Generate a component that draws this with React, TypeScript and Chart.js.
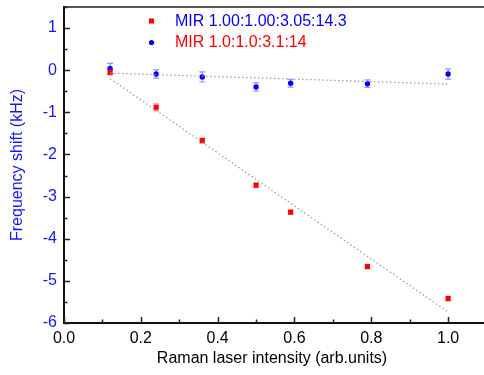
import React, { useEffect, useRef } from "react";
import { Chart, registerables } from "chart.js";

Chart.register(...registerables);

// ---- data ----
const xRed = [0.12, 0.24, 0.36, 0.5, 0.59, 0.79, 1.0];
const yRed = [-0.05, -0.88, -1.67, -2.73, -3.37, -4.66, -5.42];
const errRed = [0.06, 0.08, 0.06, 0.05, 0.05, 0.05, 0.05];

const xBlue = [0.12, 0.24, 0.36, 0.5, 0.59, 0.79, 1.0];
const yBlue = [0.04, -0.09, -0.16, -0.4, -0.31, -0.32, -0.09];
const errBlue = [0.12, 0.1, 0.12, 0.1, 0.09, 0.09, 0.12];

const fitRedX = [0.12, 1.0];
const fitRedY = [-0.2, -5.74];
const fitBlueX = [0.12, 1.0];
const fitBlueY = [-0.07, -0.33];

const labelRed = "MIR 1.00:1.00:3.05:14.3";
const labelBlue = "MIR 1.0:1.0:3.1:14";

const xMajorTicks = [0, 0.2, 0.4, 0.6, 0.8, 1.0];
const xMinorTicks = [0.1, 0.3, 0.5, 0.7, 0.9];
const yMajorTicks = [-6, -5, -4, -3, -2, -1, 0, 1];
const yMinorTicks = [-5.5, -4.5, -3.5, -2.5, -1.5, -0.5, 0.5, 1.5];

const xTitle = "Raman laser intensity (arb.units)";
const yTitle = "Frequency shift (kHz)";

const FONT = "'Liberation Sans', Arial, sans-serif";

const toPts = (xs: number[], ys: number[]) => xs.map((x, i) => ({ x, y: ys[i] }));

const errorBarPlugin = {
  id: "errorBars",
  beforeDatasetsDraw(chart: any) {
    const { ctx, scales } = chart;
    const xs = scales.x;
    const ys = scales.y;
    const draw = (xa: number[], ya: number[], ea: number[], color: string) => {
      ctx.save();
      ctx.strokeStyle = color;
      ctx.lineWidth = 1.2;
      xa.forEach((x, i) => {
        const px = xs.getPixelForValue(x);
        const top = ys.getPixelForValue(ya[i] + ea[i]);
        const bot = ys.getPixelForValue(ya[i] - ea[i]);
        ctx.beginPath();
        ctx.moveTo(px, top);
        ctx.lineTo(px, bot);
        ctx.moveTo(px - 3, top);
        ctx.lineTo(px + 3, top);
        ctx.moveTo(px - 3, bot);
        ctx.lineTo(px + 3, bot);
        ctx.stroke();
      });
      ctx.restore();
    };
    draw(xRed, yRed, errRed, "rgba(255,60,60,0.55)");
    draw(xBlue, yBlue, errBlue, "rgba(60,60,255,0.55)");
  },
};

const axesPlugin = {
  id: "axesFrame",
  afterDatasetsDraw(chart: any) {
    const { ctx, chartArea, scales } = chart;
    const { left, right, top, bottom } = chartArea;
    const xs = scales.x;
    const ys = scales.y;
    ctx.save();
    // top frame
    ctx.strokeStyle = "#555";
    ctx.lineWidth = 2;
    ctx.beginPath();
    ctx.moveTo(left, top);
    ctx.lineTo(484, top);
    ctx.stroke();
    // left & bottom axes
    ctx.strokeStyle = "#111";
    ctx.lineWidth = 2;
    ctx.beginPath();
    ctx.moveTo(left, top - 1);
    ctx.lineTo(left, bottom);
    ctx.lineTo(484, bottom);
    ctx.stroke();
    // ticks
    ctx.lineWidth = 1.5;
    ctx.strokeStyle = "#222";
    ctx.beginPath();
    yMajorTicks.forEach((v) => {
      const p = Math.round(ys.getPixelForValue(v)) + 0.5;
      ctx.moveTo(left, p);
      ctx.lineTo(left + 6, p);
    });
    yMinorTicks.forEach((v) => {
      const p = Math.round(ys.getPixelForValue(v)) + 0.5;
      ctx.moveTo(left, p);
      ctx.lineTo(left + 3.5, p);
    });
    xMajorTicks.forEach((v) => {
      const p = Math.round(xs.getPixelForValue(v)) + 0.5;
      ctx.moveTo(p, bottom);
      ctx.lineTo(p, bottom - 6);
    });
    xMinorTicks.forEach((v) => {
      const p = Math.round(xs.getPixelForValue(v)) + 0.5;
      ctx.moveTo(p, bottom);
      ctx.lineTo(p, bottom - 3.5);
    });
    ctx.stroke();
    ctx.restore();
  },
};

const legendPlugin = {
  id: "customLegend",
  afterDraw(chart: any) {
    const { ctx } = chart;
    ctx.save();
    ctx.font = `16px ${FONT}`;
    ctx.textBaseline = "middle";
    // item 1: red square
    ctx.fillStyle = "#ff0000";
    ctx.fillRect(149, 18.5, 5, 5);
    ctx.fillStyle = "#0000ff";
    ctx.fillText(labelRed, 175, 22);
    // item 2: blue circle
    ctx.fillStyle = "#0000ff";
    ctx.beginPath();
    ctx.arc(151.5, 42.5, 2.6, 0, Math.PI * 2);
    ctx.fill();
    ctx.fillStyle = "#ff0000";
    ctx.fillText(labelBlue, 175, 43);
    ctx.restore();
  },
};

export default function App() {
  const ref = useRef<HTMLCanvasElement | null>(null);

  useEffect(() => {
    if (!ref.current) return;
    const chart = new Chart(ref.current, {
      type: "scatter",
      data: {
        datasets: [
          {
            label: "fitRed",
            data: toPts(fitRedX, fitRedY),
            showLine: true,
            borderColor: "#9a9a9a",
            borderWidth: 1.2,
            borderDash: [1.5, 2.5],
            pointRadius: 0,
          },
          {
            label: "fitBlue",
            data: toPts(fitBlueX, fitBlueY),
            showLine: true,
            borderColor: "#9a9a9a",
            borderWidth: 1.2,
            borderDash: [1.5, 2.5],
            pointRadius: 0,
          },
          {
            label: labelRed,
            data: toPts(xRed, yRed),
            pointStyle: "rect",
            pointRadius: 3.6,
            backgroundColor: "#ff0000",
            borderColor: "#ff0000",
            borderWidth: 0,
          },
          {
            label: labelBlue,
            data: toPts(xBlue, yBlue),
            pointStyle: "circle",
            pointRadius: 2.7,
            backgroundColor: "#0000ff",
            borderColor: "#0000ff",
            borderWidth: 0,
          },
        ],
      },
      options: {
        animation: false,
        responsive: false,
        layout: { padding: { top: 7, right: 0, left: 0, bottom: 0 } },
        plugins: {
          legend: { display: false },
          tooltip: { enabled: false },
        },
        scales: {
          x: {
            type: "linear",
            min: 0,
            max: 1.083,
            grid: { display: false, drawTicks: false },
            border: { display: false },
            ticks: {
              stepSize: 0.2,
              includeBounds: false,
              autoSkip: false,
              maxRotation: 0,
              padding: 6,
              color: "#000",
              font: { family: FONT, size: 16 },
              callback: (v: any) => Number(v).toFixed(1),
            },
            title: {
              display: true,
              text: xTitle,
              color: "#000",
              font: { family: FONT, size: 16 },
              padding: { top: 0, bottom: 7 },
            },
            afterFit: (s: any) => {
              s.height = 52;
              s.paddingLeft = 0;
              s.paddingRight = 0;
            },
          },
          y: {
            type: "linear",
            min: -6,
            max: 1.5,
            grid: { display: false, drawTicks: false },
            border: { display: false },
            ticks: {
              stepSize: 1,
              includeBounds: false,
              autoSkip: false,
              padding: 7,
              color: "#1515ff",
              font: { family: FONT, size: 16 },
              callback: (v: any) => String(Math.round(Number(v))),
            },
            title: {
              display: true,
              text: yTitle,
              color: "#1515ff",
              font: { family: FONT, size: 16 },
              padding: { top: 8, bottom: 0 },
            },
            afterFit: (s: any) => {
              s.width = 64;
              s.paddingTop = 0;
              s.paddingBottom = 0;
            },
          },
        },
      },
      plugins: [errorBarPlugin, axesPlugin, legendPlugin],
    } as any);
    return () => chart.destroy();
  }, []);

  return (
    <canvas
      ref={ref}
      width={484}
      height={375}
      style={{ position: "absolute", left: 0, top: 0, display: "block" }}
    />
  );
}
